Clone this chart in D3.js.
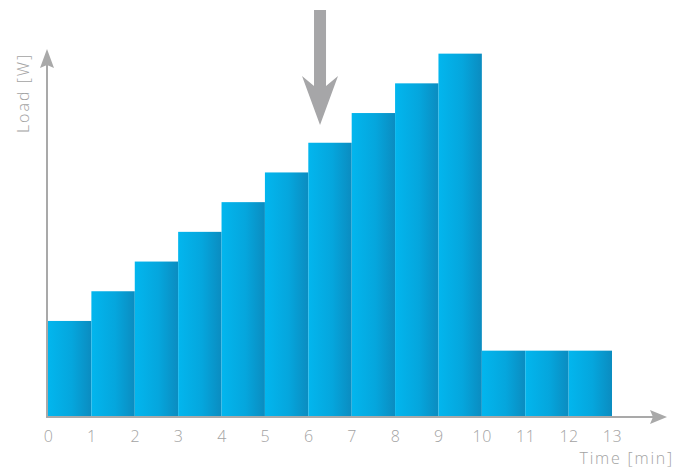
<!DOCTYPE html>
<html>
<head>
<meta charset="utf-8">
<script src="https://cdn.jsdelivr.net/npm/d3@7"></script>
<style>
  html, body { margin: 0; padding: 0; background: #fff; }
  svg { display: block; }
  text { font-family: "Open Sans", Lato, sans-serif; font-weight: 300; fill: #a3a3a3; }
</style>
</head>
<body>
<svg id="chart" width="686" height="470"></svg>
<script>
// Load per minute slot (arbitrary watt units)
const minutes = [0, 1, 2, 3, 4, 5, 6, 7, 8, 9, 10, 11, 12];
const load = [32, 42, 52, 62, 72, 82, 92, 102, 112, 122, 22, 22, 22];
const tickLabels = ["0", "1", "2", "3", "4", "5", "6", "7", "8", "9", "10", "11", "12", "13"];
const xTitle = "Time [min]";
const yTitle = "Load [W]";
const markerMinute = 6.27; // where the down arrow points

const svg = d3.select("#chart");
const x = d3.scaleLinear().domain([0, 13]).range([48, 612]);
const y = d3.scaleLinear().domain([0, 124]).range([416, 47.7]);

// horizontal gradient for each bar: lighter left, darker right
const defs = svg.append("defs");
const grad = defs.append("linearGradient").attr("id", "barGrad")
  .attr("x1", "0%").attr("x2", "100%").attr("y1", "0%").attr("y2", "0%");
grad.append("stop").attr("offset", "0%").attr("stop-color", "#02b6ee");
grad.append("stop").attr("offset", "55%").attr("stop-color", "#05a6dd");
grad.append("stop").attr("offset", "100%").attr("stop-color", "#0b8cc0");

svg.append("g").selectAll("rect")
  .data(minutes)
  .join("rect")
  .attr("x", d => x(d))
  .attr("width", d => x(d + 1) - x(d))
  .attr("y", (d, i) => y(load[i]))
  .attr("height", (d, i) => y(0) - y(load[i]))
  .attr("fill", "url(#barGrad)");

const axisColor = "#a9a9a9";

// Y axis line with arrow head
svg.append("line")
  .attr("x1", 47).attr("x2", 47)
  .attr("y1", y(0) + 1).attr("y2", 62)
  .attr("stroke", axisColor).attr("stroke-width", 2);
svg.append("path")
  .attr("d", "M47,49 L54,68 L47,65 L40,68 Z")
  .attr("fill", axisColor);

// X axis line with arrow head
svg.append("line")
  .attr("x1", 46).attr("x2", 656)
  .attr("y1", y(0) + 1).attr("y2", y(0) + 1)
  .attr("stroke", axisColor).attr("stroke-width", 2);
svg.append("path")
  .attr("d", `M667,${y(0) + 1} L650,${y(0) - 6} L653,${y(0) + 1} L650,${y(0) + 8} Z`)
  .attr("fill", axisColor);

// tick labels (no tick marks)
const xAxis = d3.axisBottom(x)
  .tickValues(d3.range(tickLabels.length))
  .tickFormat((d, i) => tickLabels[i])
  .tickSize(0)
  .tickPadding(14);
const gx = svg.append("g").attr("transform", `translate(0,${y(0) + 1})`).call(xAxis);
gx.select(".domain").remove();
gx.selectAll("text")
  .attr("font-family", "'Open Sans', Lato, sans-serif")
  .attr("font-size", 16)
  .style("letter-spacing", "0.6px")
  .style("fill", "#a3a3a3");

// axis titles
svg.append("text")
  .attr("x", 674).attr("y", 464)
  .attr("text-anchor", "end")
  .attr("font-size", 16)
  .style("letter-spacing", "1.8px")
  .text(xTitle);
svg.append("text")
  .attr("transform", "translate(29,93) rotate(-90)")
  .attr("text-anchor", "middle")
  .attr("font-size", 16)
  .style("letter-spacing", "2px")
  .text(yTitle);

// down arrow marking the current minute
const ax = x(markerMinute);
svg.append("path")
  .attr("d", `M${ax - 6},10 L${ax + 6},10 L${ax + 6},86 L${ax + 18},76 L${ax},125 L${ax - 18},76 L${ax - 6},86 Z`)
  .attr("fill", "#a6a6a8");
</script>
</body>
</html>
